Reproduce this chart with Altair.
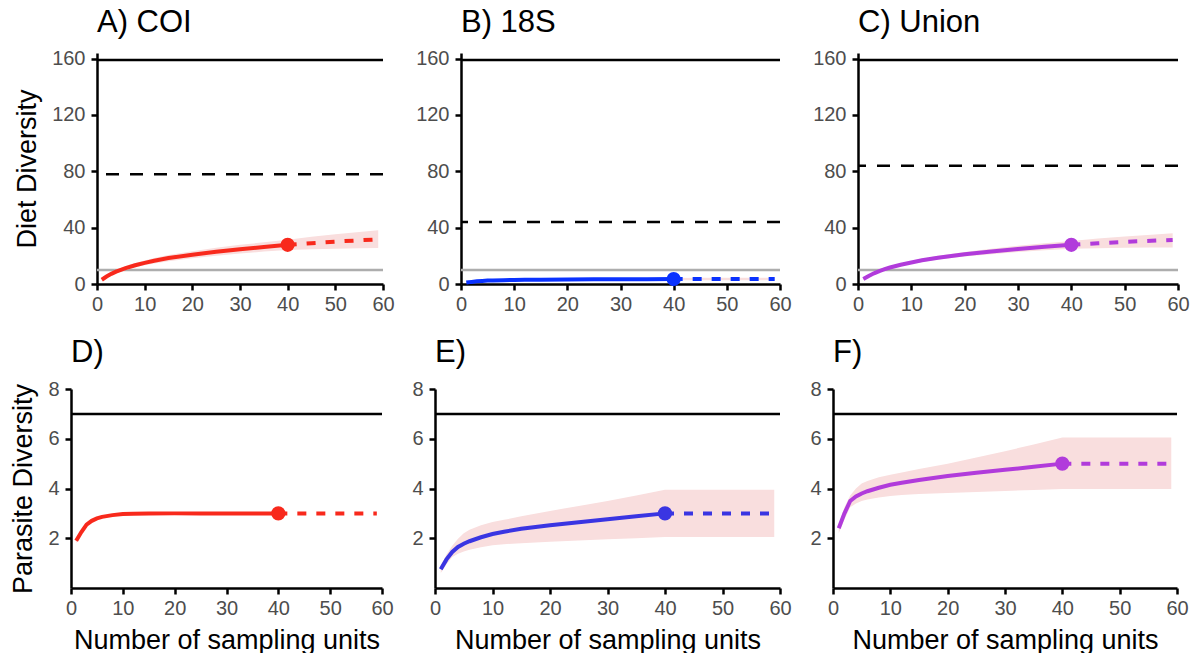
import altair as alt
import pandas as pd

# Sampling-unit positions: observed (rarefied) part and extrapolated part
X_OBS = [1, 2, 3, 4, 5, 6, 8, 10, 12, 15, 20, 25, 30, 35, 40]
X_EXT = [40, 45, 50, 55, 59]
X_TICKS = [0, 10, 20, 30, 40, 50, 60]

# A) COI - diet
COI_DIET = [3.0, 5.3, 7.2, 8.8, 10.1, 11.3, 13.3, 15.0, 16.5, 18.4, 20.8, 22.9, 24.7, 26.3, 27.8]
COI_DIET_LO = [2.5, 4.6, 6.3, 7.7, 8.9, 9.9, 11.7, 13.3, 14.6, 16.2, 18.3, 20.1, 21.6, 23.0, 24.2]
COI_DIET_HI = [3.5, 6.0, 8.1, 9.9, 11.3, 12.7, 14.9, 16.7, 18.4, 20.6, 23.3, 25.7, 27.8, 29.6, 31.4]
COI_DIET_EXT = [27.8, 29.0, 30.1, 31.0, 31.7]
COI_DIET_EXT_LO = [24.2, 24.7, 25.0, 25.3, 25.5]
COI_DIET_EXT_HI = [31.4, 33.6, 35.4, 37.0, 38.2]

# B) 18S - diet
S18_DIET = [1.0, 1.5, 1.9, 2.2, 2.4, 2.55, 2.75, 2.9, 3.0, 3.1, 3.2, 3.3, 3.35, 3.4, 3.5]
S18_DIET_LO = [0.8, 1.2, 1.5, 1.7, 1.9, 2.0, 2.1, 2.2, 2.3, 2.4, 2.5, 2.5, 2.6, 2.6, 2.7]
S18_DIET_HI = [1.2, 1.8, 2.3, 2.7, 2.9, 3.1, 3.4, 3.6, 3.7, 3.8, 3.9, 4.1, 4.1, 4.2, 4.3]
S18_DIET_EXT = [3.5, 3.55, 3.6, 3.6, 3.6]
S18_DIET_EXT_LO = [2.7, 2.7, 2.7, 2.7, 2.7]
S18_DIET_EXT_HI = [4.3, 4.4, 4.5, 4.5, 4.5]

# C) Union - diet
UNI_DIET = [3.5, 5.7, 7.6, 9.2, 10.5, 11.7, 13.7, 15.3, 16.8, 18.7, 21.1, 23.1, 24.9, 26.4, 27.8]
UNI_DIET_LO = [3.1, 5.2, 7.0, 8.5, 9.8, 10.9, 12.8, 14.3, 15.7, 17.4, 19.5, 21.2, 22.7, 23.9, 25.0]
UNI_DIET_HI = [3.9, 6.2, 8.2, 9.9, 11.2, 12.5, 14.6, 16.3, 17.9, 20.0, 22.7, 25.0, 27.1, 28.9, 30.6]
UNI_DIET_EXT = [27.8, 28.9, 29.9, 30.7, 31.3]
UNI_DIET_EXT_LO = [25.0, 25.4, 25.7, 25.9, 26.0]
UNI_DIET_EXT_HI = [30.6, 32.3, 33.8, 35.0, 36.0]

# D) COI - parasites
COI_PAR = [1.9, 2.25, 2.55, 2.7, 2.8, 2.86, 2.93, 2.97, 2.98, 2.99, 3.0, 3.0, 3.0, 3.0, 3.0]
COI_PAR_LO = [1.8, 2.15, 2.47, 2.64, 2.75, 2.82, 2.9, 2.95, 2.97, 2.98, 2.99, 2.99, 3.0, 3.0, 3.0]
COI_PAR_HI = [2.0, 2.35, 2.63, 2.76, 2.85, 2.9, 2.96, 2.99, 2.99, 3.0, 3.01, 3.01, 3.0, 3.0, 3.0]
COI_PAR_EXT = [3.0, 3.0, 3.0, 3.0, 3.0]
COI_PAR_EXT_LO = [3.0, 3.0, 3.0, 3.0, 3.0]
COI_PAR_EXT_HI = [3.0, 3.0, 3.0, 3.0, 3.0]

# E) 18S - parasites
S18_PAR = [0.75, 1.15, 1.45, 1.65, 1.78, 1.88, 2.04, 2.17, 2.26, 2.38, 2.52, 2.64, 2.76, 2.88, 3.0]
S18_PAR_LO = [0.6, 0.95, 1.25, 1.38, 1.47, 1.54, 1.64, 1.72, 1.76, 1.8, 1.86, 1.91, 1.96, 2.0, 2.05]
S18_PAR_HI = [0.9, 1.35, 1.7, 1.98, 2.2, 2.34, 2.52, 2.65, 2.74, 2.88, 3.1, 3.3, 3.5, 3.72, 3.95]
S18_PAR_EXT = [3.0, 3.0, 3.0, 3.0, 3.0]
S18_PAR_EXT_LO = [2.05, 2.05, 2.05, 2.05, 2.05]
S18_PAR_EXT_HI = [3.95, 3.95, 3.95, 3.95, 3.95]

# F) Union - parasites
UNI_PAR = [2.4, 3.0, 3.5, 3.68, 3.8, 3.89, 4.03, 4.15, 4.23, 4.34, 4.5, 4.63, 4.75, 4.87, 5.0]
UNI_PAR_LO = [2.2, 2.75, 3.25, 3.4, 3.5, 3.56, 3.64, 3.7, 3.74, 3.78, 3.82, 3.86, 3.9, 3.94, 3.98]
UNI_PAR_HI = [2.55, 3.25, 3.72, 4.0, 4.2, 4.3, 4.45, 4.55, 4.64, 4.78, 5.0, 5.25, 5.5, 5.77, 6.05]
UNI_PAR_EXT = [5.0, 5.0, 5.0, 5.0, 5.0]
UNI_PAR_EXT_LO = [3.98, 3.98, 3.98, 3.98, 3.98]
UNI_PAR_EXT_HI = [6.05, 6.05, 6.05, 6.05, 6.05]

# Reference levels drawn as horizontal lines
DIET_TOTAL = 159
DIET_ESTIMATES = [78, 44, 84]
DIET_MIN = 10
PARASITE_TOTAL = 7

FONT = "Liberation Sans"
RED = "#F8291C"
BLUE = "#0A32FF"
BLUE_PAR = "#3A35E2"
PURPLE = "#B13BDB"
BAND = "#F9DEDE"


def panel(title, obs, lo, hi, ext, ext_lo, ext_hi, color, ymax, yvalues,
          width, height, ytitle=None, xtitle=None, dashed=None, grey=None, total=None):
    obs_df = pd.DataFrame({"n": X_OBS, "d": obs})
    ext_df = pd.DataFrame({"n": X_EXT, "d": ext})
    band_df = pd.DataFrame({"n": X_OBS + X_EXT[1:], "lo": lo + ext_lo[1:], "hi": hi + ext_hi[1:]})
    end_df = pd.DataFrame({"n": [X_OBS[-1]], "d": [obs[-1]]})

    xs = alt.Scale(domain=[0, 60], nice=False, zero=False)
    ys = alt.Scale(domain=[0, ymax], nice=False, zero=True)
    xax = alt.Axis(values=X_TICKS, title=xtitle, grid=False)
    yax = alt.Axis(values=yvalues, title=ytitle, grid=False)
    X = alt.X("n:Q", scale=xs, axis=xax)

    layers = []
    if grey is not None:
        layers.append(alt.Chart(pd.DataFrame({"d": [grey]})).mark_rule(
            color="#ADADAD", strokeWidth=2.5).encode(y=alt.Y("d:Q", scale=ys, axis=yax)))
    if total is not None:
        layers.append(alt.Chart(pd.DataFrame({"d": [total]})).mark_rule(
            color="black", strokeWidth=2.5).encode(y=alt.Y("d:Q", scale=ys, axis=yax)))
    if dashed is not None:
        layers.append(alt.Chart(pd.DataFrame({"d": [dashed]})).mark_rule(
            color="black", strokeWidth=2.5, strokeDash=[13, 11]).encode(y=alt.Y("d:Q", scale=ys, axis=yax)))
    layers.append(alt.Chart(band_df).mark_area(color=BAND, opacity=1).encode(
        x=X, y=alt.Y("lo:Q", scale=ys, axis=yax), y2="hi:Q"))
    layers.append(alt.Chart(ext_df).mark_line(color=color, strokeWidth=4, strokeDash=[9, 10]).encode(
        x=X, y=alt.Y("d:Q", scale=ys, axis=yax)))
    layers.append(alt.Chart(obs_df).mark_line(color=color, strokeWidth=4).encode(
        x=X, y=alt.Y("d:Q", scale=ys, axis=yax)))
    layers.append(alt.Chart(end_df).mark_point(color=color, filled=True, opacity=1, size=200).encode(
        x=X, y=alt.Y("d:Q", scale=ys, axis=yax)))

    return alt.layer(*layers).properties(
        width=width, height=height,
        title=alt.TitleParams(title, anchor="start", frame="group", fontSize=31, font=FONT,
                              fontWeight="normal", color="black", offset=10),
    )


TOP_TICKS = [0, 40, 80, 120, 160]
BOT_TICKS = [2, 4, 6, 8]
XT = "Number of sampling units"

a = panel("A) COI", COI_DIET, COI_DIET_LO, COI_DIET_HI, COI_DIET_EXT, COI_DIET_EXT_LO, COI_DIET_EXT_HI,
          RED, 164, TOP_TICKS, 286, 231, ytitle="Diet Diversity",
          dashed=DIET_ESTIMATES[0], grey=DIET_MIN, total=DIET_TOTAL)
b = panel("B) 18S", S18_DIET, S18_DIET_LO, S18_DIET_HI, S18_DIET_EXT, S18_DIET_EXT_LO, S18_DIET_EXT_HI,
          BLUE, 164, TOP_TICKS, 319, 231,
          dashed=DIET_ESTIMATES[1], grey=DIET_MIN, total=DIET_TOTAL)
c = panel("C) Union", UNI_DIET, UNI_DIET_LO, UNI_DIET_HI, UNI_DIET_EXT, UNI_DIET_EXT_LO, UNI_DIET_EXT_HI,
          PURPLE, 164, TOP_TICKS, 320, 231,
          dashed=DIET_ESTIMATES[2], grey=DIET_MIN, total=DIET_TOTAL)
d = panel("D)", COI_PAR, COI_PAR_LO, COI_PAR_HI, COI_PAR_EXT, COI_PAR_EXT_LO, COI_PAR_EXT_HI,
          RED, 8, BOT_TICKS, 311, 199, ytitle="Parasite Diversity", xtitle=XT, total=PARASITE_TOTAL)
e = panel("E)", S18_PAR, S18_PAR_LO, S18_PAR_HI, S18_PAR_EXT, S18_PAR_EXT_LO, S18_PAR_EXT_HI,
          BLUE_PAR, 8, BOT_TICKS, 345, 199, xtitle=XT, total=PARASITE_TOTAL)
f = panel("F)", UNI_PAR, UNI_PAR_LO, UNI_PAR_HI, UNI_PAR_EXT, UNI_PAR_EXT_LO, UNI_PAR_EXT_HI,
          PURPLE, 8, BOT_TICKS, 344, 199, xtitle=XT, total=PARASITE_TOTAL)

# Invisible 1px cell that indents the upper row past the wider "160" tick labels
indent = alt.Chart(pd.DataFrame({"v": [0]})).mark_point(opacity=0).encode(
    x=alt.X("v:Q", axis=None), y=alt.Y("v:Q", axis=None)
).properties(width=1, height=1)

row1 = alt.hconcat(indent, alt.hconcat(a, b, c, spacing=78, bounds="flush"), spacing=25, bounds="flush")
row2 = alt.hconcat(d, e, f, spacing=53, bounds="flush")

chart = alt.concat(row1, row2, columns=1, spacing=23, align="none").configure(
    padding={"left": 9, "top": 6, "right": 0, "bottom": 0},
    font=FONT,
).configure_view(stroke=None).configure_axis(
    domainColor="black", domainWidth=2.5, tickColor="black", tickWidth=2.5, tickSize=6,
    labelColor="#4D4D4D", labelFontSize=20, labelFont=FONT, labelPadding=4,
    titleFont=FONT, titleFontSize=27, titleFontWeight="normal", titleColor="black",
    labelFlush=False,
).configure_axisX(titlePadding=9).configure_axisY(titlePadding=10, labelPadding=6)

chart.save("out.html", embed_options={"renderer": "svg", "actions": False})
